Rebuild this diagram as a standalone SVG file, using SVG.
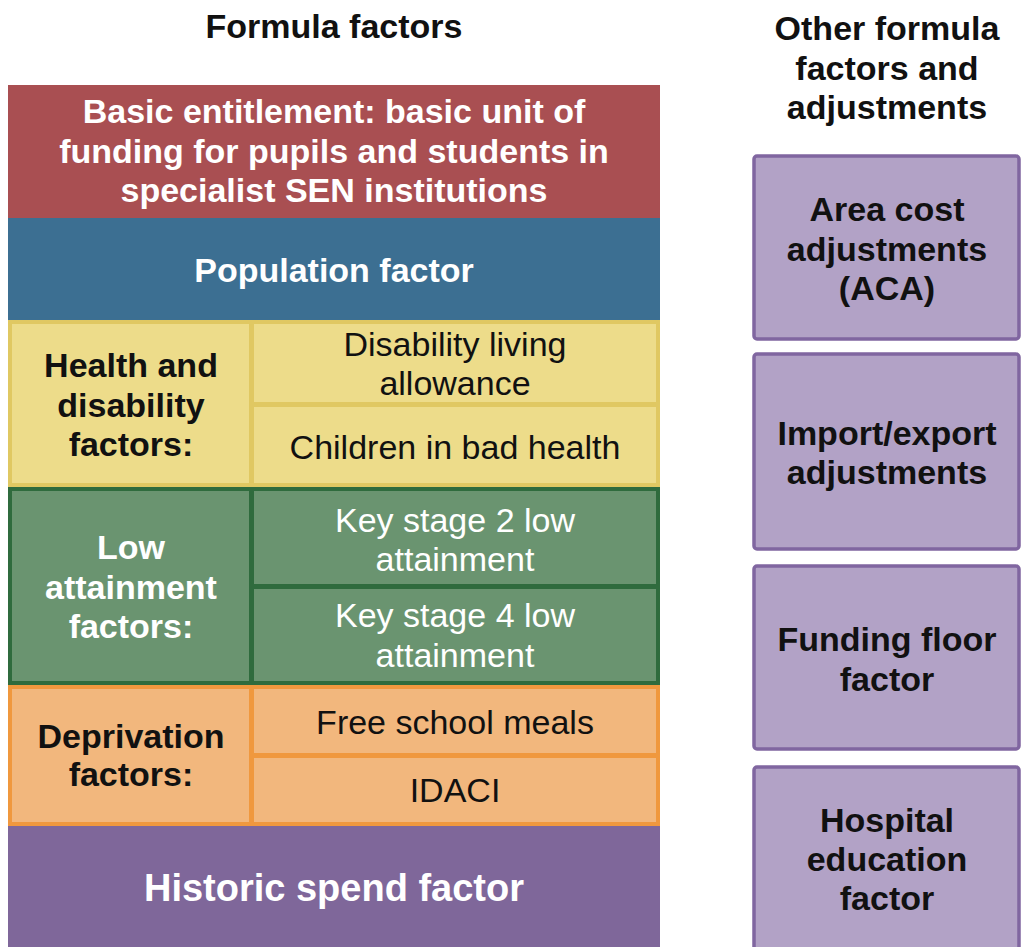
<svg xmlns="http://www.w3.org/2000/svg" width="1022" height="947" viewBox="0 0 1022 947">
<style>
text{font-family:"Liberation Sans",Arial,sans-serif;font-size:34px;text-anchor:middle}
.b{font-weight:bold}
.w{fill:#ffffff}
.k{fill:#111111}
.y{fill:#EDDC8A;stroke:#E0C862;stroke-width:3}
.g{fill:#6A9470;stroke:#2F6B3D;stroke-width:3}
.o{fill:#F2B77D;stroke:#F0983E;stroke-width:3}
.p{fill:#B2A2C6;stroke:#8066A0;stroke-width:3.5}
</style>
<rect width="1022" height="947" fill="#ffffff"/>
<g id="titles">
<text class="b k" x="334" y="38">Formula factors</text>
<text class="b k" x="887" y="40">Other formula</text>
<text class="b k" x="887" y="80">factors and</text>
<text class="b k" x="887" y="119">adjustments</text>
</g>
<g id="basic">
<rect x="8" y="85" width="652" height="133" fill="#A94F52"/>
<text class="b w" x="334" y="123">Basic entitlement: basic unit of</text>
<text class="b w" x="334" y="163">funding for pupils and students in</text>
<text class="b w" x="334" y="202">specialist SEN institutions</text>
</g>
<g id="population">
<rect x="8" y="218" width="652" height="102" fill="#3C6F92"/>
<text class="b w" x="334" y="282">Population factor</text>
</g>
<g id="health">
<rect x="8" y="320" width="652" height="167" fill="#E0C862"/>
<rect class="y" x="10.5" y="322.5" width="240" height="162"/>
<text class="b k" x="131" y="377">Health and</text>
<text class="b k" x="131" y="417">disability</text>
<text class="b k" x="131" y="456">factors:</text>
</g>
<g id="dla">
<rect class="y" x="252.5" y="322.5" width="405" height="81"/>
<text class="k" x="455" y="356">Disability living</text>
<text class="k" x="455" y="395">allowance</text>
</g>
<g id="badhealth">
<rect class="y" x="252.5" y="405.5" width="405" height="79"/>
<text class="k" x="455" y="459">Children in bad health</text>
</g>
<g id="lowattain">
<rect x="8" y="487" width="652" height="198" fill="#2F6B3D"/>
<rect class="g" x="10.5" y="489.5" width="240" height="193"/>
<text class="b w" x="131" y="559">Low</text>
<text class="b w" x="131" y="599">attainment</text>
<text class="b w" x="131" y="638">factors:</text>
</g>
<g id="ks2">
<rect class="g" x="252.5" y="489.5" width="405" height="96"/>
<text class="w" x="455" y="532">Key stage 2 low</text>
<text class="w" x="455" y="571">attainment</text>
</g>
<g id="ks4">
<rect class="g" x="252.5" y="587.5" width="405" height="95"/>
<text class="w" x="455" y="627">Key stage 4 low</text>
<text class="w" x="455" y="667">attainment</text>
</g>
<g id="deprivation">
<rect x="8" y="685" width="652" height="141" fill="#F0983E"/>
<rect class="o" x="10.5" y="687.5" width="240" height="136"/>
<text class="b k" x="131" y="748">Deprivation</text>
<text class="b k" x="131" y="786">factors:</text>
</g>
<g id="fsm">
<rect class="o" x="252.5" y="687.5" width="405" height="67"/>
<text class="k" x="455" y="734">Free school meals</text>
</g>
<g id="idaci">
<rect class="o" x="252.5" y="756.5" width="405" height="67"/>
<text class="k" x="455" y="802">IDACI</text>
</g>
<g id="historic">
<rect x="8" y="826" width="652" height="121" fill="#7F679A"/>
<text class="b w" x="334" y="901" style="font-size:38px">Historic spend factor</text>
</g>
<g id="aca">
<rect class="p" x="754" y="156" width="265" height="183" rx="3"/>
<text class="b k" x="887" y="221">Area cost</text>
<text class="b k" x="887" y="261">adjustments</text>
<text class="b k" x="887" y="300">(ACA)</text>
</g>
<g id="importexport">
<rect class="p" x="754" y="354" width="265" height="195" rx="3"/>
<text class="b k" x="887" y="445">Import/export</text>
<text class="b k" x="887" y="484">adjustments</text>
</g>
<g id="fundingfloor">
<rect class="p" x="754" y="566" width="265" height="183" rx="3"/>
<text class="b k" x="887" y="651">Funding floor</text>
<text class="b k" x="887" y="691">factor</text>
</g>
<g id="hospital">
<rect class="p" x="754" y="767" width="265" height="200" rx="3"/>
<text class="b k" x="887" y="832">Hospital</text>
<text class="b k" x="887" y="871">education</text>
<text class="b k" x="887" y="910">factor</text>
</g>
<g id="connectors"></g>
</svg>
